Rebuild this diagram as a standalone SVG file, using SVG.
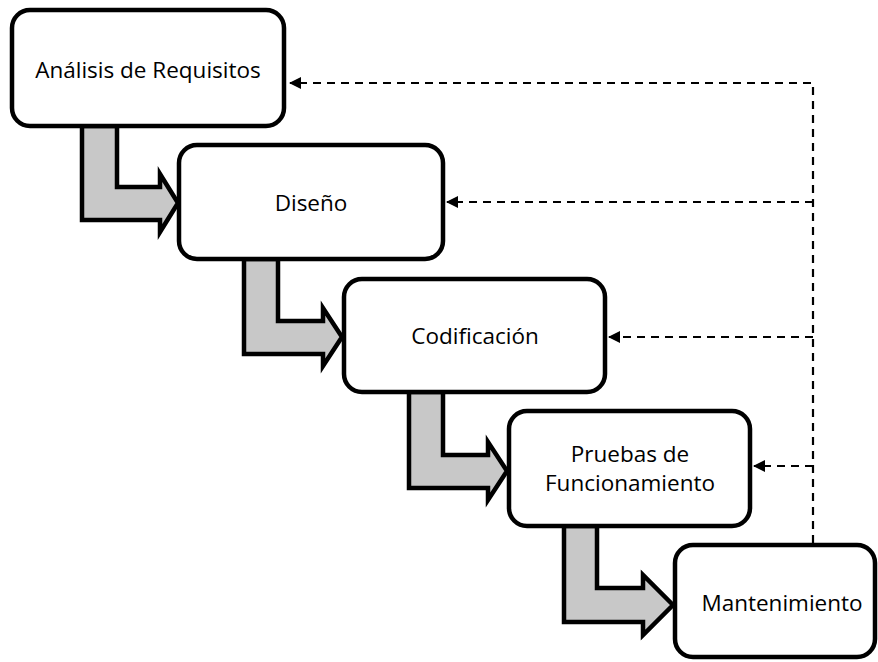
<svg xmlns="http://www.w3.org/2000/svg" width="878" height="662" viewBox="0 0 878 662">
<defs>
<style>
.box{fill:#fff;stroke:#000;stroke-width:4.5}
.flow{fill:#c8c8c8;stroke:#000;stroke-width:4.5;stroke-linejoin:miter}
.dash{fill:none;stroke:#000;stroke-width:2.2;stroke-dasharray:8 6}
.lbl{font-family:"Open Sans","Noto Sans","Liberation Sans",sans-serif;font-size:22.5px;fill:#000;text-anchor:middle}
</style>
<marker id="ah" markerWidth="12" markerHeight="12" refX="11" refY="6" orient="auto" markerUnits="userSpaceOnUse">
<path d="M0,0 L12,6 L0,12 Z" fill="#000"/>
</marker>
</defs>
<rect width="878" height="662" fill="#fff"/>
<g id="connectors">
<polygon class="flow" points="82,126 117,126 117,187 160,187 160,174 178,203 160,232 160,220 82,220"/>
<polygon class="flow" points="244,259 278,259 278,321 323,321 323,308 342,337 323,366 323,354 244,354"/>
<polygon class="flow" points="409,392 443,392 443,455 488,455 488,442 507,471 488,500 488,488 409,488"/>
<polygon class="flow" points="564,526 597,526 597,588 643,588 643,575 673,605 643,635 643,622 564,622"/>
<path class="dash" d="M813,543 V83 H290" marker-end="url(#ah)"/>
<path class="dash" d="M813,202 H447" marker-end="url(#ah)"/>
<path class="dash" d="M813,337 H609" marker-end="url(#ah)"/>
<path class="dash" d="M813,466 H754" marker-end="url(#ah)"/>
</g>
<g id="n1"><rect class="box" x="12" y="10" width="272" height="116" rx="18"/><text class="lbl" x="148" y="78">Análisis de Requisitos</text></g>
<g id="n2"><rect class="box" x="179" y="145" width="264" height="114" rx="18"/><text class="lbl" x="311" y="211">Diseño</text></g>
<g id="n3"><rect class="box" x="344" y="279" width="261" height="113" rx="18"/><text class="lbl" x="475" y="344">Codificación</text></g>
<g id="n4"><rect class="box" x="509" y="411" width="241" height="115" rx="18"/><text class="lbl" x="630" y="462">Pruebas de</text><text class="lbl" x="630" y="491">Funcionamiento</text></g>
<g id="n5"><rect class="box" x="675" y="545" width="200" height="112" rx="18"/><text class="lbl" x="782" y="611">Mantenimiento</text></g>
</svg>
